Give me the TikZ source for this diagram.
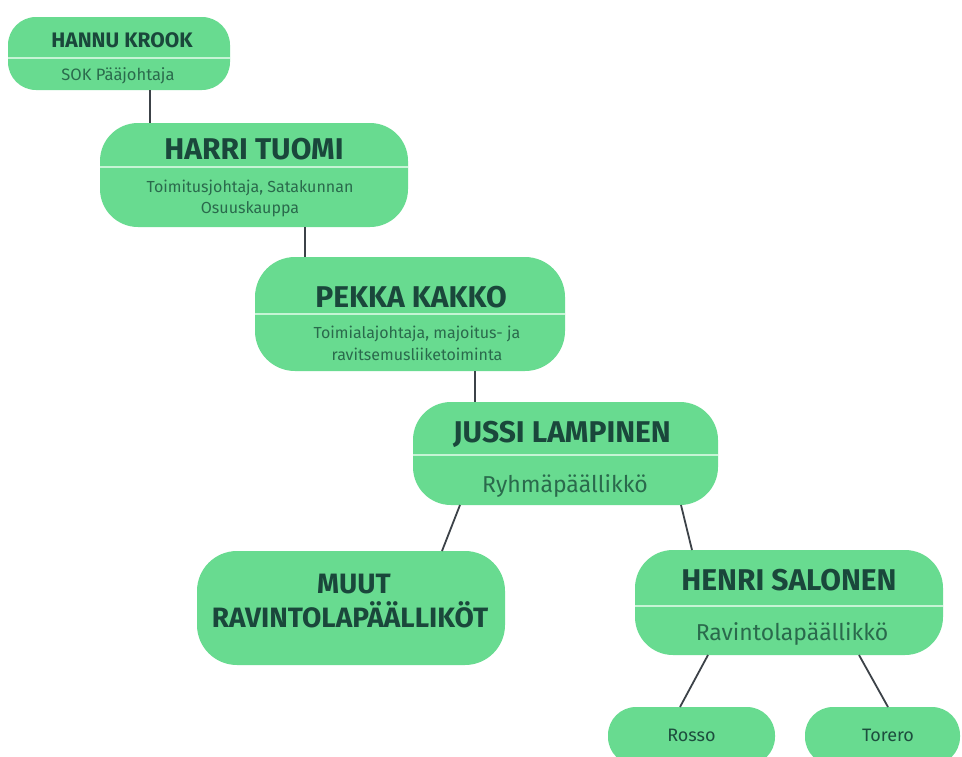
\documentclass[tikz,border=0pt]{standalone}
\usepackage{fontspec}
\setmainfont{Fira Sans}
\usetikzlibrary{calc}
\definecolor{boxgreen}{HTML}{68DB90}
\definecolor{titlegreen}{HTML}{1A473B}
\definecolor{subgreen}{HTML}{2A6A4C}
\definecolor{divgreen}{HTML}{C6F4D5}
\definecolor{linegray}{HTML}{3C4248}
\begin{document}
\begin{tikzpicture}[x=1pt,y=-1pt,
  card/.style={fill=boxgreen, draw=none, inner sep=0pt, outer sep=0pt, rounded corners=#1},
  ttl/.style={text=titlegreen, inner sep=0pt, font=\bfseries\fontsize{#1}{#1}\selectfont, text height=0.69*#1 pt, text depth=0pt},
  sub/.style={text=subgreen, inner sep=0pt, font=\fontsize{#1}{#1}\selectfont, text height=0.69*#1 pt, text depth=0pt},
  divline/.style={draw=divgreen, line width=2pt},
  conn/.style={draw=linegray, line width=1.8pt}]
\useasboundingbox (0,0) rectangle (962,756);
\fill[white] (0,0) rectangle (962,756);
\begin{scope}
\clip (0,0) rectangle (962,756);
% boxes
\node[card=28pt, minimum width=222pt, minimum height=73pt] (hannu) at (119,53.5) {};
\node[card=38pt, minimum width=308pt, minimum height=104pt] (harri) at (254,175) {};
\node[card=40pt, minimum width=310pt, minimum height=114pt] (pekka) at (410,314) {};
\node[card=38pt, minimum width=305pt, minimum height=103pt] (jussi) at (565.5,453.5) {};
\node[card=40pt, minimum width=308pt, minimum height=114pt] (muut) at (351,608) {};
\node[card=38pt, minimum width=308pt, minimum height=105pt] (henri) at (789,602.5) {};
\node[card=28pt, minimum width=167pt, minimum height=58pt] (rosso) at (691.5,736) {};
\node[card=28pt, minimum width=155pt, minimum height=58pt] (torero) at (882.5,736) {};
% dividers
\draw[divline] ([yshift=-4.5pt]hannu.west) -- ([yshift=-4.5pt]hannu.east);
\draw[divline] ([yshift=8pt]harri.west) -- ([yshift=8pt]harri.east);
\draw[divline] (pekka.west) -- (pekka.east);
\draw[divline] ([yshift=-1.5pt]jussi.west) -- ([yshift=-1.5pt]jussi.east);
\draw[divline] ([yshift=-3.5pt]henri.west) -- ([yshift=-3.5pt]henri.east);
% texts
\node[ttl=21] (hannu-t) at (122,40) {HANNU KROOK};
\node[sub=16.5] (hannu-s) at (118,75) {SOK Pääjohtaja};
\node[ttl=30] (harri-t) at (254,149) {HARRI TUOMI};
\node[sub=16] (harri-s1) at (250,187) {Toimitusjohtaja, Satakunnan};
\node[sub=16] (harri-s2) at (250,208) {Osuuskauppa};
\node[ttl=30] (pekka-t) at (411,297) {PEKKA KAKKO};
\node[sub=16] (pekka-s1) at (417,333) {Toimialajohtaja, majoitus- ja};
\node[sub=16] (pekka-s2) at (417,355) {ravitsemusliiketoiminta};
\node[ttl=30] (jussi-t) at (562,432) {JUSSI LAMPINEN};
\node[sub=23] (jussi-s) at (565,485) {Ryhmäpäällikkö};
\node[ttl=28] (muut-t1) at (354,584) {MUUT};
\node[ttl=28] (muut-t2) at (350,618) {RAVINTOLAPÄÄLLIKÖT};
\node[ttl=30] (henri-t) at (789,580) {HENRI SALONEN};
\node[sub=23] (henri-s) at (792,633) {Ravintolapäällikkö};
\node[sub=18, text=titlegreen!80!subgreen] (rosso-t) at (691.5,735) {Rosso};
\node[sub=18, text=titlegreen!80!subgreen] (torero-t) at (888,735) {Torero};
% connectors
\draw[conn] ([xshift=31pt]hannu.south) -- ([xshift=31pt]hannu.south |- harri.north);
\draw[conn] ([xshift=51pt]harri.south) -- ([xshift=51pt]harri.south |- pekka.north);
\draw[conn] ([xshift=65pt]pekka.south) -- ([xshift=65pt]pekka.south |- jussi.north);
\draw[conn] ([xshift=-105.5pt]jussi.south) -- ([xshift=91pt]muut.north);
\draw[conn] ([xshift=115.5pt]jussi.south) -- ([xshift=-97pt]henri.north);
\draw[conn] ([xshift=-81pt]henri.south) -- ([xshift=-11.5pt]rosso.north);
\draw[conn] ([xshift=70pt]henri.south) -- ([xshift=5.5pt]torero.north);
\end{scope}
\end{tikzpicture}
\end{document}
